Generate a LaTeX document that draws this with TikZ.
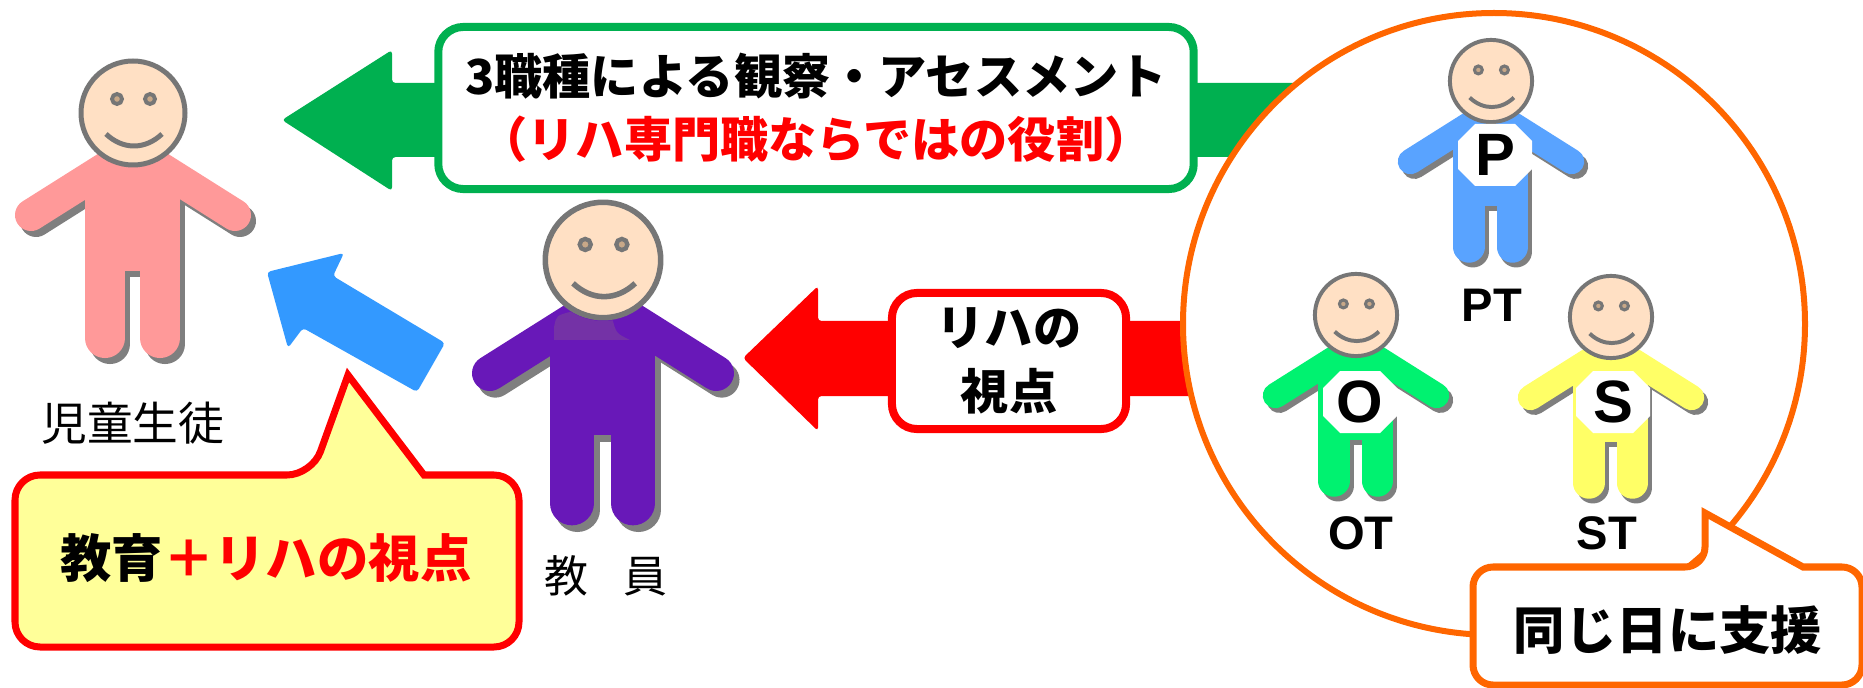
\documentclass[tikz,border=0pt]{standalone}
\usepackage{fontspec}
\usepackage{xcolor}
\usepackage{tikz}
\setmainfont{Noto Sans CJK JP}
\newfontfamily\latinfont{Liberation Sans}
\definecolor{grn}{HTML}{00B050}
\definecolor{org}{HTML}{FF6600}
\definecolor{skyarrow}{HTML}{3399FF}
\definecolor{note}{HTML}{FFFF99}
\definecolor{skin}{HTML}{FFE0C4}
\definecolor{eye}{HTML}{C8A888}
\definecolor{outline}{HTML}{767676}
\definecolor{figshadow}{HTML}{7F7F7F}
\definecolor{kid}{HTML}{FF9999}
\definecolor{teach}{HTML}{6818B8}
\definecolor{teachhi}{HTML}{7432A6}
\definecolor{ptblue}{HTML}{59A3FF}
\definecolor{otgreen}{HTML}{00F270}
\definecolor{styellow}{HTML}{FFFF66}

% trunk, legs and arms of one figure; #1 = size factor for the line widths,
% #2 = where the legs end
\newcommand\limbs[2]{%
  \fill (-48,50) rectangle (47,158);
  \draw[line width=#1*11.4pt,line cap=round] (-28,150) -- (-28,#2) (27,150) -- (27,#2);
  \draw[line width=#1*9.1pt,line cap=round] (-10,44) -- (-102,102) (10,44) -- (102,102);
}

\tikzset{
  pics/person/.style n args={3}{code={
    \begin{scope}[scale=#2]
      \begin{scope}[shift={(5,6)},figshadow]\limbs{#2}{#3}\end{scope}
      \begin{scope}[#1]\limbs{#2}{#3}\end{scope}
      \filldraw[fill=skin,draw=outline,line width=#2*1.42pt] (0,0) circle[radius=52];
      \filldraw[fill=eye,draw=outline,line width=#2*1.1pt]
        (-16,-14) circle[radius=5] (17,-14) circle[radius=5];
      \draw[outline,line width=#2*1.42pt] (-27,21) .. controls (-10,37) and (12,37) .. (29,21);
    \end{scope}
  }}
}

\begin{document}
\begin{tikzpicture}[x=0.01cm,y=-0.01cm,
    box/.style={draw=#1,fill=white,line width=0.08cm,rounded corners=0.25cm,
      align=center,inner sep=0pt,font=\fontsize{13.7pt}{18pt}\selectfont\bfseries},
    callout/.style={draw=#1,line width=0.07cm},
    saytext/.style={font=\fontsize{14.6pt}{17pt}\selectfont\bfseries},
    tag/.style={font=\latinfont\bfseries\fontsize{13.4pt}{15pt}\selectfont},
    letter/.style={font=\latinfont\bfseries\fontsize{17pt}{19pt}\selectfont,inner sep=0pt}]
  \useasboundingbox (0,0) rectangle (1863,688);

  % arrows from the therapists
  \fill[grn,rounded corners=1pt] (282,120) -- (392,50) -- (392,83) -- (1400,83)
    -- (1400,157) -- (392,157) -- (392,191) -- cycle;
  \node[box=grn,minimum width=7.55cm,minimum height=1.62cm] (assess) at (816,108)
    {3職種による観察・アセスメント\\\textcolor{red}{（リハ専門職ならではの役割）}};
  \fill[red,rounded corners=1pt] (743,358) -- (818,286) -- (818,321) -- (1300,321)
    -- (1300,396) -- (818,396) -- (818,431) -- cycle;
  \node[box=red,minimum width=2.34cm,minimum height=1.36cm] (view) at (1009,361)
    {リハの\\視点};

  % the three therapists
  \filldraw[fill=white,draw=org,line width=0.06cm] (1494,324) circle[radius=311];
  \pic at (1491,81) {person={ptblue}{0.79}{210}};
  \pic at (1356,315) {person={otgreen}{0.79}{210}};
  \pic at (1611,317) {person={styellow}{0.79}{210}};
  \foreach \l/\x/\y in {P/1495/155,O/1360/402,S/1613/402} {
    \fill[white,shift={(\x,\y)}] (-37,-14) -- (-20,-31) -- (20,-31) -- (37,-14)
      -- (37,14) -- (20,31) -- (-20,31) -- (-37,14) -- cycle;
    \node[letter] (badge\l) at (\x,\y) {\l};
  }
  \node[tag] (ptname) at (1492,305) {PT};
  \node[tag] (otname) at (1361,533) {OT};
  \node[tag] (stname) at (1607,533) {ST};

  \filldraw[callout=org,fill=white] (1803,567) [rounded corners=0.2cm] -- (1862,567)
    -- (1862,685) -- (1473,685) -- (1473,567) -- (1705,567) [sharp corners]
    -- (1705,513) -- cycle;
  \node[saytext] (sameday) at (1668,630) {同じ日に支援};

  % teacher and pupil
  \fill[skyarrow,rounded corners=1pt] (267,272) -- (344,253) -- (333,276) -- (445,343)
    -- (417,392) -- (303,328) -- (288,348) -- cycle;
  \pic at (133,113) {person={kid}{1}{225}};
  \node[font=\fontsize{13pt}{15pt}\selectfont] (pupil) at (133,423) {児童生徒};
  \pic at (603,260) {person={teach}{1.11}{219}};
  \fill[teachhi,shift={(603,260)},scale=1.11] (-44,72) -- (-44,60)
    .. controls (-42,50) .. (-29,46.6) arc[start angle=122,end angle=81,radius=55]
    .. controls (12,66) .. (24,72) -- cycle;
  \node[font=\fontsize{12.5pt}{15pt}\selectfont] (teacher) at (606,576) {教\hspace{0.8em}員};

  \filldraw[callout=red,fill=note] (424,475) [rounded corners=0.25cm] -- (519,475)
    -- (519,647) -- (15,647) -- (15,475) -- (312,475) [sharp corners]
    -- (348,375) -- cycle;
  \node[saytext] (both) at (266,558) {教育\textcolor{red}{＋リハの視点}};
\end{tikzpicture}
\end{document}
